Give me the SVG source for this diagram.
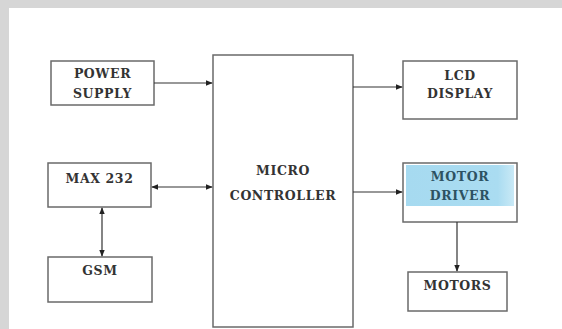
<svg xmlns="http://www.w3.org/2000/svg" width="562" height="329" viewBox="0 0 562 329">
<defs>
<style>
.box{fill:#fff;stroke:#6a6a6a;stroke-width:1.5}
.lbl{font-family:"DejaVu Serif","Liberation Serif",serif;font-weight:bold;font-size:12.5px;fill:#333;text-anchor:middle;letter-spacing:0.6px}
.con{stroke:#333;stroke-width:1.2;fill:none}
</style>
<linearGradient id="blue" x1="0" y1="0" x2="1" y2="0">
<stop offset="0" stop-color="#a6daf0"/><stop offset="0.85" stop-color="#aadcf1"/><stop offset="1" stop-color="#c9e9f6"/>
</linearGradient>
<marker id="ah" viewBox="0 0 10 10" refX="9" refY="5" markerWidth="6" markerHeight="6" orient="auto-start-reverse">
<path d="M0,1 L10,5 L0,9 z" fill="#222"/>
</marker>
</defs>
<rect x="0" y="0" width="562" height="329" fill="#fff"/>
<rect x="0" y="0" width="562" height="8" fill="#d6d6d6"/>
<rect x="0" y="0" width="9" height="329" fill="#d6d6d6"/>
<g id="power-supply"><rect class="box" x="51" y="61" width="103" height="44"/><text class="lbl" x="102.5" y="78">POWER</text><text class="lbl" x="102.5" y="98">SUPPLY</text></g>
<g id="micro-controller"><rect class="box" x="213" y="55" width="140" height="272"/><text class="lbl" x="283" y="175">MICRO</text><text class="lbl" x="283" y="200">CONTROLLER</text></g>
<g id="lcd-display"><rect class="box" x="403" y="61" width="114" height="58"/><text class="lbl" x="460" y="80">LCD</text><text class="lbl" x="460" y="98">DISPLAY</text></g>
<g id="motor-driver"><rect class="box" x="403" y="163" width="114" height="59"/><rect x="406" y="165" width="108" height="41" fill="url(#blue)"/><text class="lbl" x="460" y="181" style="fill:#2d5262">MOTOR</text><text class="lbl" x="460" y="200" style="fill:#2d5262">DRIVER</text></g>
<g id="max232"><rect class="box" x="48" y="163" width="103" height="44"/><text class="lbl" x="99.5" y="183">MAX 232</text></g>
<g id="gsm"><rect class="box" x="48" y="257" width="104" height="45"/><text class="lbl" x="100" y="275">GSM</text></g>
<g id="motors"><rect class="box" x="408" y="272" width="99" height="39"/><text class="lbl" x="457.5" y="290">MOTORS</text></g>
<g id="connectors">
<line class="con" x1="154" y1="83" x2="212" y2="83" marker-end="url(#ah)"/>
<line class="con" x1="353" y1="87" x2="402" y2="87" marker-end="url(#ah)"/>
<line class="con" x1="353" y1="192" x2="402" y2="192" marker-end="url(#ah)"/>
<line class="con" x1="152" y1="187" x2="212" y2="187" marker-start="url(#ah)" marker-end="url(#ah)"/>
<line class="con" x1="102" y1="208" x2="102" y2="256" marker-start="url(#ah)" marker-end="url(#ah)"/>
<line class="con" x1="457" y1="222" x2="457" y2="271" marker-end="url(#ah)"/>
</g>
</svg>
